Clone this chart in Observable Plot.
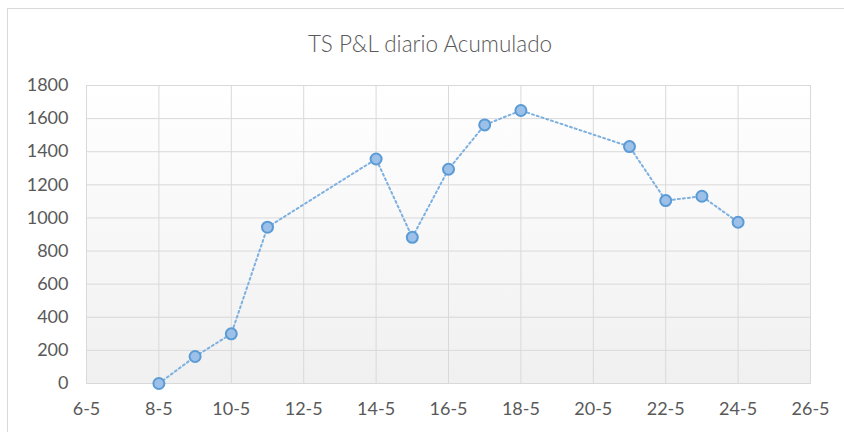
<!DOCTYPE html>
<html><head><meta charset="utf-8">
<script src="https://cdn.jsdelivr.net/npm/d3@7"></script>
<script src="https://cdn.jsdelivr.net/npm/@observablehq/plot@0.6"></script>
<style>
html,body{margin:0;padding:0;background:#fff;overflow:hidden;width:844px;height:432px;}
#frame{position:absolute;left:7px;top:8px;width:900px;height:500px;border:1px solid #d9d9d9;box-sizing:border-box;}
#title{position:absolute;left:0;top:30px;width:860px;text-align:center;font-family:Lato,sans-serif;font-weight:300;font-size:22.5px;color:#595959;}
#chart{position:absolute;left:0;top:70px;}
</style></head><body>
<div id="frame"></div>
<div id="title">TS P&amp;L diario Acumulado</div>
<div id="chart"></div>
<script>
const year = 2016;
const days = ["8-5","9-5","10-5","11-5","14-5","15-5","16-5","17-5","18-5","21-5","22-5","23-5","24-5"];
const pnl = [0,163,300,944,1356,883,1294,1562,1649,1431,1105,1131,974];
const xTickLabels = ["6-5","8-5","10-5","12-5","14-5","16-5","18-5","20-5","22-5","24-5","26-5"];
const yTicks = [0,200,400,600,800,1000,1200,1400,1600,1800];

const parse = s => { const [d, m] = s.split("-").map(Number); return new Date(Date.UTC(year, m - 1, d)); };
const data = days.map((d, i) => ({date: parse(d), value: pnl[i]}));
const xTicks = xTickLabels.map(parse);
const fmt = d => `${d.getUTCDate()}-${d.getUTCMonth() + 1}`;

const plot = Plot.plot({
  width: 844, height: 362,
  marginLeft: 86, marginRight: 34, marginTop: 15, marginBottom: 49,
  style: {fontFamily: "Lato, sans-serif", fontSize: "18px", color: "#595959", background: "transparent", overflow: "visible"},
  x: {type: "utc", domain: [xTicks[0], xTicks[xTicks.length - 1]], ticks: xTicks, tickFormat: fmt, tickSize: 0, tickPadding: 19, label: null},
  y: {domain: [0, 1800], ticks: yTicks, tickFormat: d => String(d), tickSize: 0, tickPadding: 18, label: null},
  marks: [
    Plot.frame({fill: "url(#bgGrad)"}),
    Plot.gridX(xTicks, {stroke: "#d9d9d9", strokeOpacity: 1}),
    Plot.gridY(yTicks, {stroke: "#d9d9d9", strokeOpacity: 1}),
    Plot.frame({stroke: "#d9d9d9"}),
    Plot.line(data, {x: "date", y: "value", stroke: "#7eb0e0", strokeWidth: 2, strokeDasharray: "2,3"}),
    Plot.dot(data, {x: "date", y: "value", r: 5.5, fill: "#9dc0e8", stroke: "#5b9bd5", strokeWidth: 2})
  ]
});
const defs = document.createElementNS("http://www.w3.org/2000/svg", "defs");
defs.innerHTML = '<linearGradient id="bgGrad" x1="0" y1="0" x2="0" y2="1"><stop offset="0" stop-color="#ffffff"/><stop offset="1" stop-color="#f0f0f0"/></linearGradient>';
plot.insertBefore(defs, plot.firstChild);
document.getElementById("chart").appendChild(plot);
</script>
</body></html>
